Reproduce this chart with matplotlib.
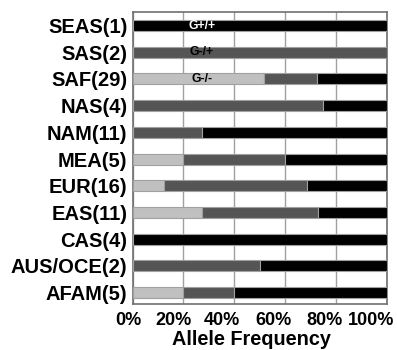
import numpy as np
import matplotlib
matplotlib.use("Agg")
import matplotlib.pyplot as plt
from matplotlib.transforms import ScaledTranslation

plt.rcParams['font.family'] = ['Liberation Sans', 'DejaVu Sans']
plt.rcParams['font.weight'] = 'bold'

categories = ["SEAS(1)", "SAS(2)", "SAF(29)", "NAS(4)", "NAM(11)", "MEA(5)",
              "EUR(16)", "EAS(11)", "CAS(4)", "AUS/OCE(2)", "AFAM(5)"]
g_mm = [0, 0, 51.7, 0, 0, 20, 12.5, 27.3, 0, 0, 20]        # G-/-
g_mp = [0, 100, 20.7, 75, 27.3, 40, 56.25, 45.5, 0, 50, 20]  # G-/+
g_pp = [100, 0, 27.6, 25, 72.7, 40, 31.25, 27.2, 100, 50, 60]  # G+/+
xticks = [0, 20, 40, 60, 80, 100]
xtick_labels = ["0%", "20%", "40%", "60%", "80%", "100%"]

fig = plt.figure(figsize=(3.97, 3.5), dpi=100)
ax = fig.add_axes([0.3338, 0.1314, 0.641, 0.8352])

y = np.arange(len(categories))
h = 0.41
edge = dict(edgecolor='#a0a0a0', linewidth=0.8)
mm = np.array(g_mm); mp = np.array(g_mp); pp = np.array(g_pp)
ax.barh(y, mm, height=h, color='#c0c0c0', zorder=3, **edge)
ax.barh(y, mp, left=mm, height=h, color='#555555', zorder=3, **edge)
ax.barh(y, pp, left=mm + mp, height=h, color='#000000', zorder=3, **edge)

ax.text(27.3, 0, "G+/+", color='white', fontsize=8.8, fontweight='bold',
        ha='center', va='center', zorder=5)
ax.text(27.3, 1, "G-/+", color='black', fontsize=8.8, fontweight='bold',
        ha='center', va='center', zorder=5)
ax.text(27.3, 2, "G-/-", color='black', fontsize=8.8, fontweight='bold',
        ha='center', va='center', zorder=5)

ax.set_xlim(0, 100)
ax.set_ylim(10.43, -0.52)
ax.set_yticks(y)
ax.set_yticklabels(categories, fontsize=14.5, fontweight='bold')
ax.set_xticks(xticks)
ax.set_xticklabels(xtick_labels, fontsize=13, fontweight='bold')
ax.tick_params(axis='both', length=0)
ax.tick_params(axis='y', pad=3.6)
ax.tick_params(axis='x', pad=5.5)

offsets_px = [-4, -9.5, -12, -11.5, -11.7, -16]
for lab, dx in zip(ax.get_xticklabels(), offsets_px):
    lab.set_transform(lab.get_transform() + ScaledTranslation(dx / 100, 0, fig.dpi_scale_trans))

ax.grid(axis='x', color='#a0a0a0', linewidth=1.0, zorder=0)
ax.set_axisbelow(True)
for s in ax.spines.values():
    s.set_color('#707070')
    s.set_linewidth(1.2)

ax.set_xlabel("Allele Frequency", fontsize=14.3, fontweight='bold')
ax.xaxis.set_label_coords(0.4656, -0.088)
ax.xaxis.label.set_va('top')

fig.savefig("out.png", dpi=100)
